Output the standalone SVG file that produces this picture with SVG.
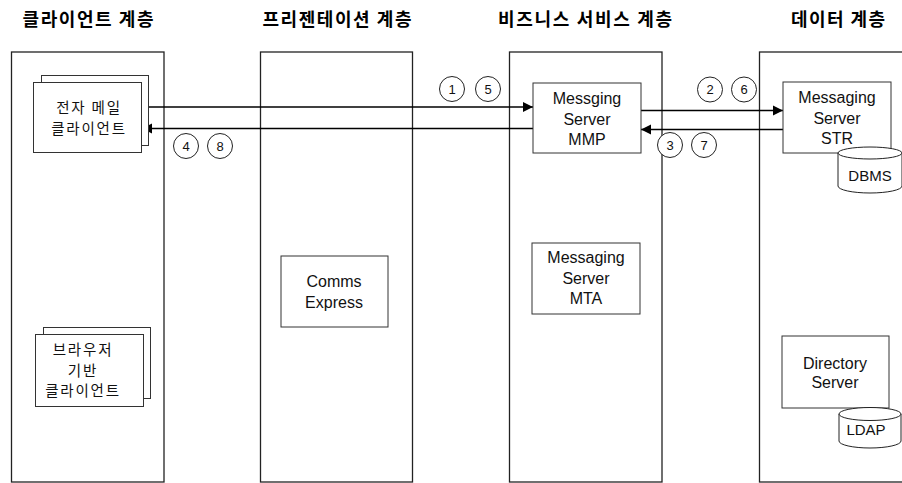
<svg xmlns="http://www.w3.org/2000/svg" width="902" height="483" viewBox="0 0 902 483">
<defs>
<style>
.lane{fill:#fff;stroke:#222;stroke-width:1.3}
.box{fill:#fff;stroke:#333;stroke-width:1}
.hdr{font-family:"Noto Sans CJK KR","Liberation Sans",sans-serif;font-weight:bold;font-size:18px;fill:#000;text-anchor:middle}
.ko{font-family:"Noto Sans CJK KR","Liberation Sans",sans-serif;font-size:14.5px;letter-spacing:1.8px;fill:#111;text-anchor:middle}
.en{font-family:"Liberation Sans",Arial,sans-serif;font-size:16px;fill:#111;text-anchor:middle}
.db{font-family:"Liberation Sans",Arial,sans-serif;font-size:15px;fill:#111;text-anchor:middle}
.num{font-family:"Liberation Sans",Arial,sans-serif;font-size:13px;fill:#111;text-anchor:middle}
.circ{fill:#fff;stroke:#222;stroke-width:1}
.conn{fill:none;stroke:#000;stroke-width:1.3}
</style>
<marker id="arr" viewBox="0 0 10 10" refX="10" refY="5" markerWidth="10" markerHeight="11" markerUnits="userSpaceOnUse" orient="auto">
<path d="M0,0 L10,5 L0,10 z" fill="#000"/>
</marker>
</defs>
<rect width="902" height="483" fill="#fff"/>

<g id="headers">
<text class="hdr" x="88" y="26" textLength="131" lengthAdjust="spacing">클라이언트 계층</text>
<text class="hdr" x="337" y="26" textLength="149" lengthAdjust="spacing">프리젠테이션 계층</text>
<text class="hdr" x="585" y="26" textLength="174" lengthAdjust="spacing">비즈니스 서비스 계층</text>
<text class="hdr" x="838" y="26" textLength="94" lengthAdjust="spacing">데이터 계층</text>
</g>

<g id="lane-client"><rect class="lane" x="11.5" y="52" width="152.5" height="430"/></g>
<g id="lane-presentation"><rect class="lane" x="260.5" y="52" width="152" height="430"/></g>
<g id="lane-business"><rect class="lane" x="509.5" y="52" width="152.5" height="430"/></g>
<g id="lane-data"><rect class="lane" x="759.5" y="52" width="160" height="430"/></g>

<g id="connectors">
<line class="conn" x1="142" y1="107" x2="533" y2="107" marker-end="url(#arr)"/>
<line class="conn" x1="533" y1="128.5" x2="142" y2="128.5" marker-end="url(#arr)"/>
<line class="conn" x1="641" y1="110.5" x2="783" y2="110.5" marker-end="url(#arr)"/>
<line class="conn" x1="783" y1="129.5" x2="641" y2="129.5" marker-end="url(#arr)"/>
</g>

<g id="email-client">
<rect class="box" x="41.5" y="75.5" width="107" height="70"/>
<rect class="box" x="33.5" y="82.5" width="108" height="70"/>
<text class="ko" x="89" y="112.5">전자 메일</text>
<text class="ko" x="89" y="133.5">클라이언트</text>
</g>

<g id="browser-client">
<rect class="box" x="43.5" y="327.5" width="107" height="71"/>
<rect class="box" x="35.5" y="334.5" width="108" height="72"/>
<text class="ko" x="83" y="354.5">브라우저</text>
<text class="ko" x="83" y="375.5">기반</text>
<text class="ko" x="83" y="396">클라이언트</text>
</g>

<g id="comms-express">
<rect class="box" x="281" y="256" width="107" height="71"/>
<text class="en" x="334" y="287">Comms</text>
<text class="en" x="334" y="308">Express</text>
</g>

<g id="mmp">
<rect class="box" x="533" y="83" width="108" height="70"/>
<text class="en" x="587" y="104">Messging</text>
<text class="en" x="587" y="125">Server</text>
<text class="en" x="587" y="145">MMP</text>
</g>

<g id="mta">
<rect class="box" x="532" y="243" width="108" height="71"/>
<text class="en" x="586" y="263">Messaging</text>
<text class="en" x="586" y="283.5">Server</text>
<text class="en" x="586" y="304">MTA</text>
</g>

<g id="str">
<rect class="box" x="783" y="82" width="108" height="71"/>
<text class="en" x="837" y="103">Messaging</text>
<text class="en" x="837" y="124">Server</text>
<text class="en" x="837" y="144">STR</text>
</g>

<g id="dbms">
<path d="M838,153 L838,186 A32,7 0 0 0 902,186 L902,153" fill="#fff" stroke="#222" stroke-width="1"/>
<ellipse cx="870" cy="153" rx="32" ry="6" fill="#fff" stroke="#222" stroke-width="1"/>
<text class="db" x="870" y="180.5">DBMS</text>
</g>

<g id="directory">
<rect class="box" x="782" y="336" width="107" height="72"/>
<text class="en" x="835" y="369">Directory</text>
<text class="en" x="835" y="388">Server</text>
</g>

<g id="ldap">
<path d="M839,414 L839,441 A31,7 0 0 0 901,441 L901,414" fill="#fff" stroke="#222" stroke-width="1"/>
<ellipse cx="870" cy="414" rx="31" ry="6.5" fill="#fff" stroke="#222" stroke-width="1"/>
<text class="db" x="866" y="434.5">LDAP</text>
</g>

<g id="step-labels">
<circle class="circ" cx="452" cy="89" r="12.5"/><text class="num" x="452" y="93.5">1</text>
<circle class="circ" cx="488" cy="89" r="12.5"/><text class="num" x="488" y="93.5">5</text>
<circle class="circ" cx="710" cy="89.5" r="12.5"/><text class="num" x="710" y="94">2</text>
<circle class="circ" cx="744" cy="89.5" r="12.5"/><text class="num" x="744" y="94">6</text>
<circle class="circ" cx="670" cy="145" r="12.5"/><text class="num" x="670" y="149.5">3</text>
<circle class="circ" cx="704" cy="145" r="12.5"/><text class="num" x="704" y="149.5">7</text>
<circle class="circ" cx="186" cy="146" r="12.5"/><text class="num" x="186" y="150.5">4</text>
<circle class="circ" cx="220" cy="146" r="12.5"/><text class="num" x="220" y="150.5">8</text>
</g>
</svg>
